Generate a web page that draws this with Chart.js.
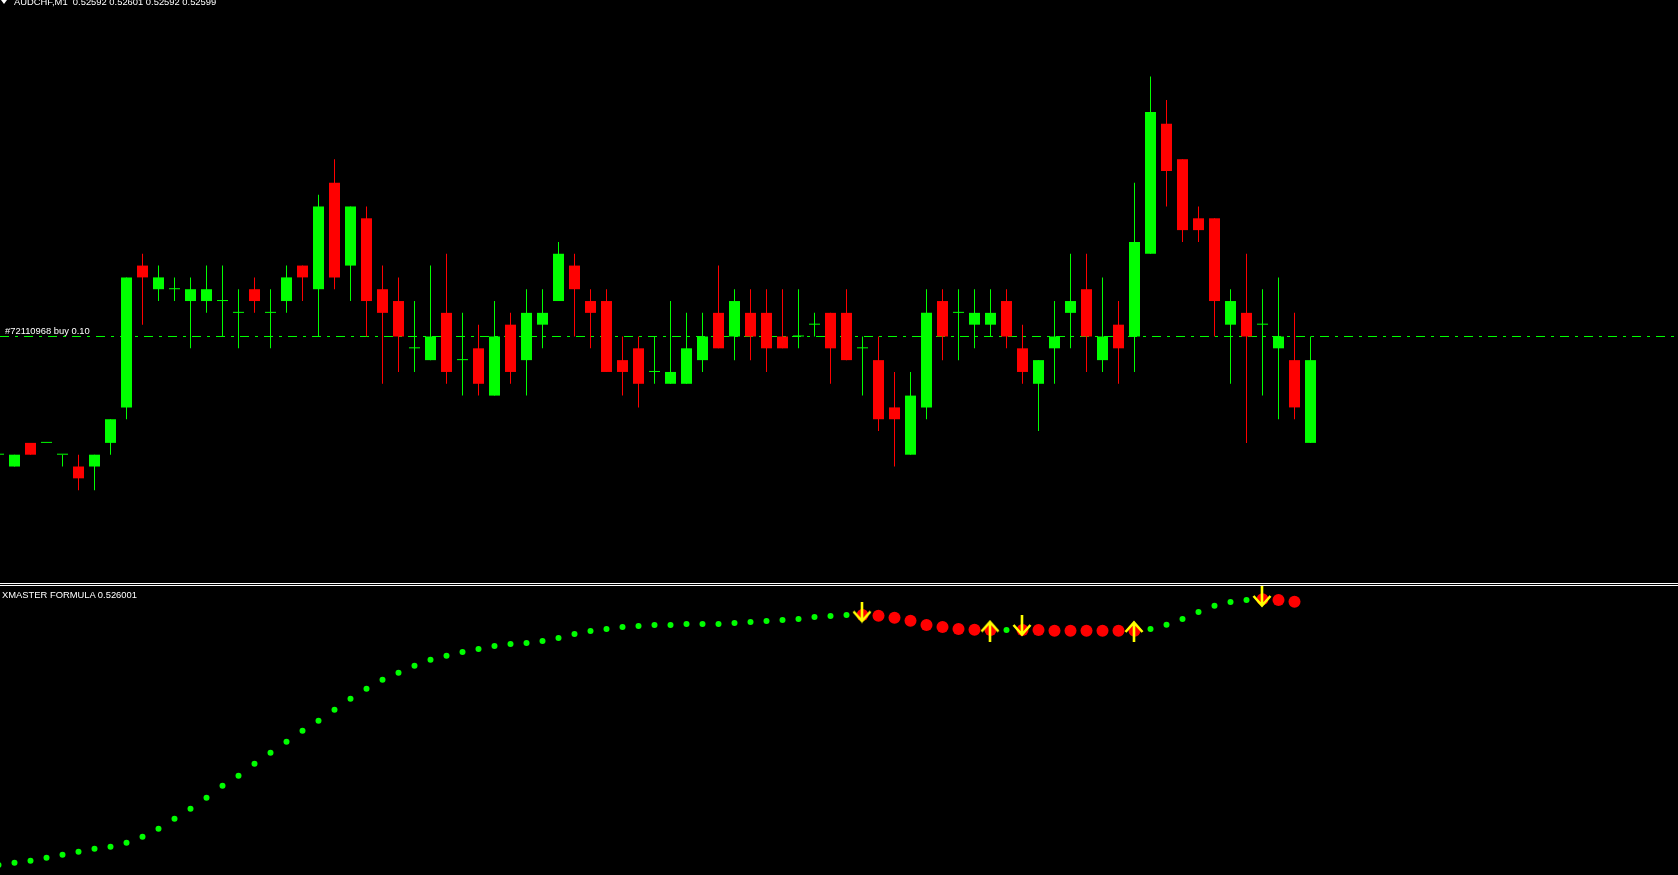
<!DOCTYPE html>
<html>
<head>
<meta charset="utf-8">
<title>AUDCHF,M1</title>
<script src="https://cdn.jsdelivr.net/npm/chart.js@4.4.1/dist/chart.umd.min.js"></script>
<style>
  html, body { margin: 0; padding: 0; background: #000; overflow: hidden; }
  #wrap { position: relative; width: 1678px; height: 875px; background: #000; overflow: hidden; }
  canvas { position: absolute; left: 0; }
  #main { top: 0; }
  #sub { top: 586px; }
  .sep { position: absolute; left: 0; width: 1678px; height: 1px; background: #fff; }
  .txt { position: absolute; color: #fff; font: 9.4px/10px "Liberation Sans", Arial, sans-serif; white-space: pre; }
  .tri { position: absolute; left: 1px; top: 0; width: 0; height: 0;
         border-left: 3px solid transparent; border-right: 3px solid transparent; border-top: 4px solid #fff; }
</style>
</head>
<body>
<div id="wrap">
  <canvas id="main" width="1678" height="583"></canvas>
  <div class="sep" style="top:583px"></div>
  <div class="sep" style="top:585px"></div>
  <canvas id="sub" width="1678" height="289"></canvas>
  <div class="tri"></div>
  <div class="txt" id="title" style="left:14px;top:-3px"></div>
  <div class="txt" id="order" style="left:5px;top:326px"></div>
  <div class="txt" id="ind" style="left:2px;top:590px"></div>
</div>
<script>
const symbol = 'AUDCHF,M1';

// bar number, left to right (0 = first full candle on screen)
const bars = [-1, 0, 1, 2, 3, 4, 5, 6, 7, 8, 9, 10, 11, 12, 13, 14, 15, 16, 17, 18, 19,
  20, 21, 22, 23, 24, 25, 26, 27, 28, 29, 30, 31, 32, 33, 34, 35, 36, 37, 38, 39,
  40, 41, 42, 43, 44, 45, 46, 47, 48, 49, 50, 51, 52, 53, 54, 55, 56, 57, 58, 59,
  60, 61, 62, 63, 64, 65, 66, 67, 68, 69, 70, 71, 72, 73, 74, 75, 76, 77, 78, 79, 80, 81];

const open = [0.52591, 0.52590, 0.52592, 0.52592, 0.52591, 0.52590, 0.52590, 0.52592, 0.52595, 0.52607,
  0.52605, 0.52605, 0.52604, 0.52604, 0.52604, 0.52603, 0.52605, 0.52603, 0.52604, 0.52607,
  0.52605, 0.52614, 0.52607, 0.52611, 0.52605, 0.52604, 0.52600, 0.52599, 0.52603, 0.52599,
  0.52600, 0.52596, 0.52602, 0.52599, 0.52602, 0.52604, 0.52607, 0.52604, 0.52604, 0.52599,
  0.52600, 0.52598, 0.52597, 0.52597, 0.52599, 0.52603, 0.52601, 0.52603, 0.52603, 0.52601,
  0.52601, 0.52602, 0.52603, 0.52603, 0.52600, 0.52599, 0.52595, 0.52591, 0.52595, 0.52604,
  0.52603, 0.52602, 0.52602, 0.52604, 0.52600, 0.52597, 0.52600, 0.52603, 0.52605, 0.52599,
  0.52602, 0.52601, 0.52608, 0.52619, 0.52616, 0.52611, 0.52611, 0.52602, 0.52603, 0.52602,
  0.52600, 0.52599, 0.52592];
const high = [0.52591, 0.52591, 0.52592, 0.52592, 0.52591, 0.52591, 0.52591, 0.52594, 0.52606, 0.52608,
  0.52607, 0.52606, 0.52606, 0.52607, 0.52607, 0.52605, 0.52606, 0.52605, 0.52607, 0.52607,
  0.52613, 0.52616, 0.52612, 0.52612, 0.52607, 0.52606, 0.52604, 0.52607, 0.52608, 0.52603,
  0.52602, 0.52604, 0.52603, 0.52605, 0.52605, 0.52609, 0.52608, 0.52605, 0.52605, 0.52601,
  0.52601, 0.52601, 0.52604, 0.52603, 0.52603, 0.52607, 0.52605, 0.52605, 0.52605, 0.52605,
  0.52605, 0.52603, 0.52603, 0.52605, 0.52601, 0.52601, 0.52598, 0.52598, 0.52605, 0.52605,
  0.52605, 0.52605, 0.52605, 0.52605, 0.52602, 0.52599, 0.52604, 0.52608, 0.52608, 0.52606,
  0.52604, 0.52614, 0.52623, 0.52621, 0.52616, 0.52612, 0.52611, 0.52605, 0.52608, 0.52605,
  0.52606, 0.52603, 0.52601];
const low = [0.52591, 0.52590, 0.52591, 0.52592, 0.52590, 0.52588, 0.52588, 0.52591, 0.52594, 0.52602,
  0.52604, 0.52604, 0.52600, 0.52603, 0.52601, 0.52600, 0.52603, 0.52600, 0.52603, 0.52604,
  0.52601, 0.52605, 0.52604, 0.52601, 0.52597, 0.52598, 0.52598, 0.52599, 0.52597, 0.52596,
  0.52596, 0.52596, 0.52597, 0.52596, 0.52600, 0.52604, 0.52601, 0.52600, 0.52598, 0.52596,
  0.52595, 0.52597, 0.52597, 0.52597, 0.52598, 0.52600, 0.52599, 0.52599, 0.52598, 0.52600,
  0.52600, 0.52601, 0.52597, 0.52599, 0.52596, 0.52593, 0.52590, 0.52591, 0.52594, 0.52599,
  0.52599, 0.52600, 0.52601, 0.52600, 0.52597, 0.52593, 0.52597, 0.52600, 0.52598, 0.52598,
  0.52597, 0.52598, 0.52608, 0.52612, 0.52609, 0.52609, 0.52601, 0.52597, 0.52592, 0.52596,
  0.52594, 0.52594, 0.52592];
const close = [0.52591, 0.52591, 0.52591, 0.52592, 0.52591, 0.52589, 0.52591, 0.52594, 0.52606, 0.52606,
  0.52606, 0.52605, 0.52605, 0.52605, 0.52604, 0.52603, 0.52604, 0.52603, 0.52606, 0.52606,
  0.52612, 0.52606, 0.52612, 0.52604, 0.52603, 0.52601, 0.52600, 0.52601, 0.52598, 0.52599,
  0.52597, 0.52601, 0.52598, 0.52603, 0.52603, 0.52608, 0.52605, 0.52603, 0.52598, 0.52598,
  0.52597, 0.52598, 0.52598, 0.52600, 0.52601, 0.52600, 0.52604, 0.52601, 0.52600, 0.52600,
  0.52601, 0.52602, 0.52600, 0.52599, 0.52600, 0.52594, 0.52594, 0.52596, 0.52603, 0.52601,
  0.52603, 0.52603, 0.52603, 0.52601, 0.52598, 0.52599, 0.52601, 0.52604, 0.52601, 0.52601,
  0.52600, 0.52609, 0.52620, 0.52615, 0.52610, 0.52610, 0.52604, 0.52604, 0.52601, 0.52602,
  0.52601, 0.52595, 0.52599];

const orderLabel = '#72110968 buy 0.10';
const orderPrice = 0.52601;

// XMASTER FORMULA, one value per bar up to bar 80
const xfName = 'XMASTER FORMULA';
const xfValue = [0.5258957, 0.5258966, 0.5258974, 0.5258986, 0.5258998, 0.5259010, 0.5259022, 0.5259030,
  0.5259046, 0.5259070, 0.5259102, 0.5259142, 0.5259182, 0.5259226, 0.5259274, 0.5259314, 0.5259362,
  0.5259406, 0.5259450, 0.5259494, 0.5259534, 0.5259578, 0.5259622, 0.5259662, 0.5259698, 0.5259726,
  0.5259754, 0.5259778, 0.5259794, 0.5259809, 0.5259821, 0.5259833, 0.5259841, 0.5259845, 0.5259853,
  0.5259865, 0.5259881, 0.5259893, 0.5259901, 0.5259909, 0.5259913, 0.5259917, 0.5259917, 0.5259921,
  0.5259921, 0.5259921, 0.5259925, 0.5259929, 0.5259933, 0.5259937, 0.5259941, 0.5259949, 0.5259953,
  0.5259957, 0.5259957, 0.5259954, 0.5259946, 0.5259934, 0.5259917, 0.5259909, 0.5259901, 0.5259898,
  0.5259897, 0.5259897, 0.5259897, 0.5259897, 0.5259894, 0.5259894, 0.5259894, 0.5259894, 0.5259894,
  0.5259894, 0.5259901, 0.5259918, 0.5259941, 0.5259969, 0.5259994, 0.5260009, 0.5260017, 0.5260020,
  0.5260017, 0.5260010];
// 1 = rising (green dot), -1 = falling (red dot)
const xfTrend = [1, 1, 1, 1, 1, 1, 1, 1, 1, 1, 1, 1, 1, 1, 1, 1, 1, 1, 1, 1, 1, 1, 1, 1, 1, 1, 1,
  1, 1, 1, 1, 1, 1, 1, 1, 1, 1, 1, 1, 1, 1, 1, 1, 1, 1, 1, 1, 1, 1, 1, 1, 1, 1, 1,
  -1, -1, -1, -1, -1, -1, -1, -1, -1, 1, -1, -1, -1, -1, -1, -1, -1, -1,
  1, 1, 1, 1, 1, 1, 1, -1, -1, -1];

const arrowBar = [53, 61, 63, 70, 78];
const arrowDir = ['down', 'up', 'down', 'up', 'down'];
const arrowLevel = [0.5259967, 0.5259895, 0.5259913, 0.5259893, 0.5260029];

// visible window: 16 px per bar, price 11.82 px per point
const xMin = -0.90625, xMax = 103.96875;
const priceMin = 0.52580145, priceMax = 0.52629469;
const xfMin = 0.5258917, xfMax = 0.5260073;

const BULL = '#00ff00', BEAR = '#ff0000', ARROW = '#ffff00';

function arrowIcon(dir) {
  const c = document.createElement('canvas');
  c.width = 21; c.height = 22;
  const g = c.getContext('2d');
  g.strokeStyle = ARROW;
  g.lineWidth = 2.6;
  g.beginPath();
  if (dir === 'down') {
    g.moveTo(10, 0); g.lineTo(10, 20);
    g.moveTo(1.5, 10); g.lineTo(10, 19.5); g.lineTo(18.5, 10);
  } else {
    g.moveTo(10, 22); g.lineTo(10, 2);
    g.moveTo(1.5, 12); g.lineTo(10, 2.5); g.lineTo(18.5, 12);
  }
  g.stroke();
  return c;
}

const hidden = { display: false };
const baseOptions = {
  responsive: false, animation: false, events: [],
  layout: { padding: 0, autoPadding: false },
  plugins: { legend: hidden, tooltip: { enabled: false }, title: hidden },
};

const candleColor = bars.map((b, i) => close[i] >= open[i] ? BULL : BEAR);

new Chart(document.getElementById('main'), {
  type: 'bar',
  data: {
    datasets: [
      {
        data: bars.map((b, i) => ({ x: b, y: [open[i], close[i]] })),
        backgroundColor: candleColor, borderWidth: 0, barThickness: 11,
        minBarLength: 1, inflateAmount: 0, grouped: false, order: 1,
      },
      {
        data: bars.map((b, i) => ({ x: b, y: [low[i], high[i]] })),
        backgroundColor: candleColor, borderWidth: 0, barThickness: 1,
        inflateAmount: 0, grouped: false, order: 2,
      },
      {
        type: 'line',
        data: [{ x: xMin, y: orderPrice }, { x: xMax, y: orderPrice }],
        borderColor: BULL, borderWidth: 1, borderDash: [9, 6, 3, 6],
        pointRadius: 0, order: 3,
      },
    ],
  },
  options: {
    ...baseOptions,
    scales: {
      x: { type: 'linear', min: xMin, max: xMax, offset: false, display: false },
      y: { type: 'linear', min: priceMin, max: priceMax, display: false },
    },
  },
});

const arrowIcons = arrowDir.map(arrowIcon);

new Chart(document.getElementById('sub'), {
  type: 'scatter',
  data: {
    datasets: [
      {
        data: xfValue.map((v, i) => ({ x: bars[i], y: v })),
        pointRadius: xfTrend.map(t => t > 0 ? 3 : 6),
        pointBackgroundColor: xfTrend.map(t => t > 0 ? BULL : BEAR),
        pointBorderWidth: 0, order: 1,
      },
      {
        data: arrowBar.map((b, i) => ({ x: b, y: arrowLevel[i] })),
        pointStyle: arrowIcons, pointRadius: 10, pointBorderWidth: 0, order: 0,
      },
    ],
  },
  options: {
    ...baseOptions,
    scales: {
      x: { type: 'linear', min: xMin, max: xMax, display: false },
      y: { type: 'linear', min: xfMin, max: xfMax, display: false },
    },
  },
});

const last = bars.length - 1;
document.getElementById('title').textContent =
  `${symbol}  ${open[last].toFixed(5)} ${high[last].toFixed(5)} ${low[last].toFixed(5)} ${close[last].toFixed(5)}`;
document.getElementById('order').textContent = orderLabel;
document.getElementById('ind').textContent = `${xfName} ${xfValue[xfValue.length - 1].toFixed(6)}`;
</script>
</body>
</html>
